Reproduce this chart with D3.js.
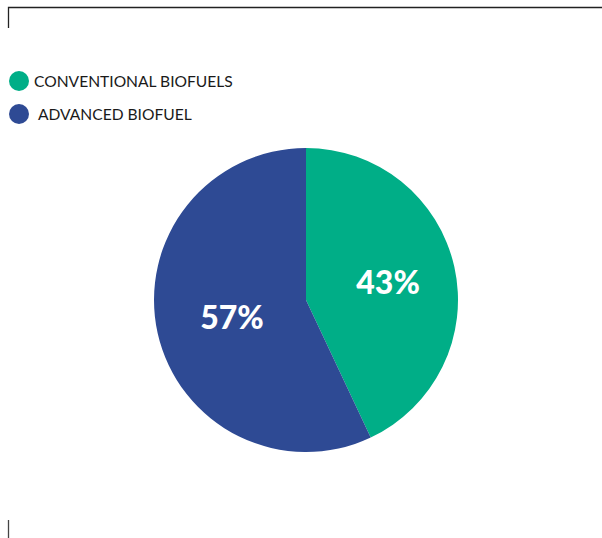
<!DOCTYPE html>
<html>
<head>
<meta charset="utf-8">
<script src="https://cdn.jsdelivr.net/npm/d3@7"></script>
<style>
  html, body { margin: 0; padding: 0; background: #fff; }
  svg { display: block; }
</style>
</head>
<body>
<svg id="chart" width="602" height="538"></svg>
<script>
const categories = ["CONVENTIONAL BIOFUELS", "ADVANCED BIOFUEL"];
const shares = [43, 57];
const colors = ["#00AE87", "#2E4A94"];

const svg = d3.select("#chart");

// frame corner marks
svg.append("path")
  .attr("d", "M8.5,28 V7.5 H602")
  .attr("fill", "none").attr("stroke", "#222").attr("stroke-width", 1.3);
svg.append("line")
  .attr("x1", 8.5).attr("x2", 8.5).attr("y1", 520).attr("y2", 538)
  .attr("stroke", "#444").attr("stroke-width", 1.3);

// legend
const legend = svg.append("g").attr("font-family", "Lato, 'Open Sans', sans-serif");
const legendY = [81, 114], textX = [34, 38];
categories.forEach((c, i) => {
  legend.append("circle").attr("cx", 19).attr("cy", legendY[i]).attr("r", 10).attr("fill", colors[i]);
  legend.append("text").attr("x", textX[i]).attr("y", legendY[i] + 5.5)
    .attr("font-size", 15.6).attr("fill", "#1a1a1a").text(c);
});

// pie
const cx = 306, cy = 300, r = 152;
const pie = d3.pie().sort(null).value(d => d);
const arc = d3.arc().innerRadius(0).outerRadius(r);
const labelArc = d3.arc().innerRadius(0).outerRadius(160);
const arcs = pie(shares);

const g = svg.append("g").attr("transform", `translate(${cx},${cy})`);
g.selectAll("path.slice").data(arcs).join("path")
  .attr("class", "slice")
  .attr("d", arc)
  .attr("fill", (d, i) => colors[i]);

g.selectAll("text.val").data(arcs).join("text")
  .attr("class", "val")
  .attr("transform", d => { const [x, y] = labelArc.centroid(d); return `translate(${x + 4},${y})`; })
  .attr("text-anchor", "middle")
  .attr("dy", "0.36em")
  .attr("font-family", "Lato, 'Open Sans', sans-serif")
  .attr("font-weight", 900)
  .attr("font-size", 32)
  .attr("fill", "#fff")
  .text(d => d.data + "%");
</script>
</body>
</html>
